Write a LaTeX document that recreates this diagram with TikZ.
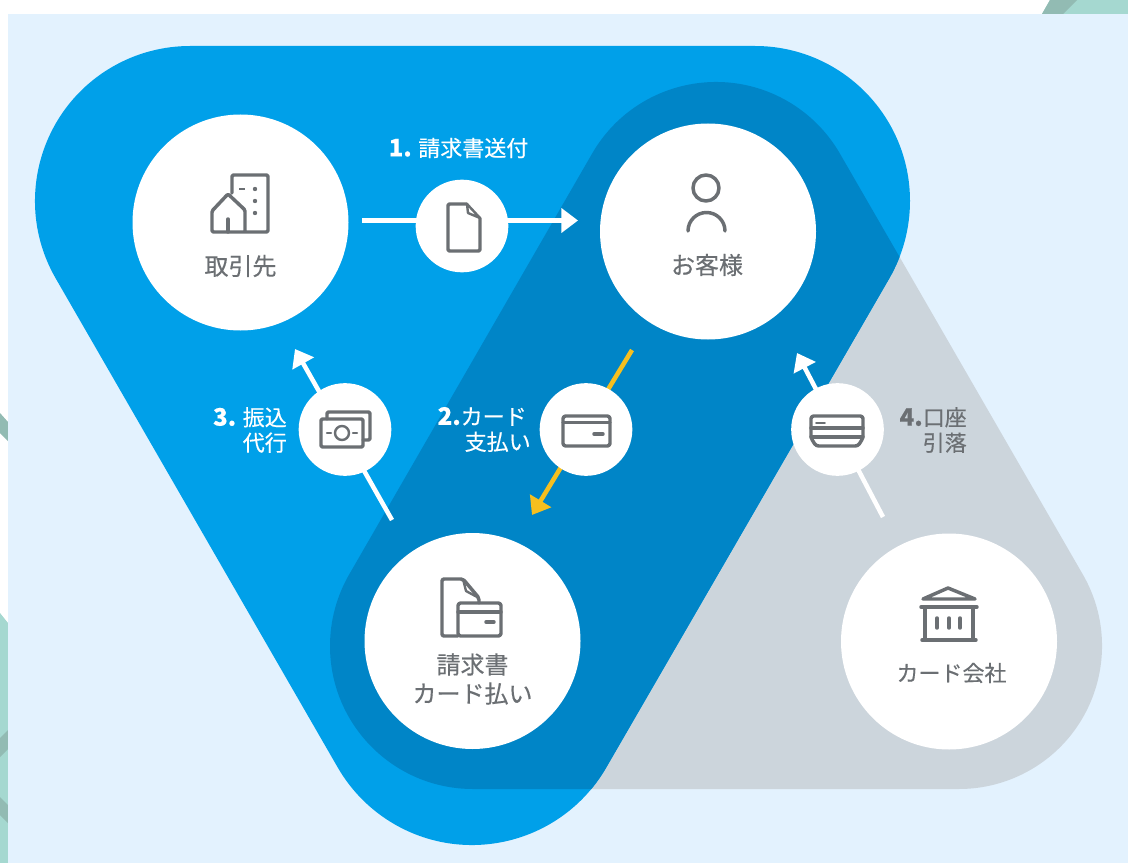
\documentclass[tikz,border=0pt]{standalone}
\usepackage{fontspec}
\setmainfont{Noto Sans CJK JP}[FakeBold=0.35]
\newfontfamily\boldnum{Noto Sans CJK JP Bold}
\usetikzlibrary{arrows.meta}
\definecolor{bgblue}{HTML}{E3F2FE}
\definecolor{mainblue}{HTML}{00A0E9}
\definecolor{darkblue}{HTML}{0085C7}
\definecolor{greyshape}{HTML}{CCD5DC}
\definecolor{tealA}{HTML}{A5D8D0}
\definecolor{tealB}{HTML}{92BBB3}
\definecolor{iconcol}{HTML}{6B6F73}
\definecolor{goldarrow}{HTML}{F6BF1F}
\newcommand{\stepnum}[1]{{\fontsize{18pt}{19pt}\selectfont\bfseries #1}}
\tikzset{
  bigcircle/.style={circle,fill=white,draw=none,inner sep=0pt,minimum size=162pt},
  smallcircle/.style={circle,fill=white,draw=none,inner sep=0pt,minimum size=69.5pt},
  flowarrow/.style={line width=3.4pt,-{Triangle[length=12.5pt,width=18pt]}},
  iconline/.style={draw=iconcol,line width=2.6pt,line join=round,line cap=round},
  iconthin/.style={draw=iconcol,line width=1.8pt,line join=round,line cap=round},
  nodetext/.style={text=iconcol,font=\fontsize{18pt}{21.75pt}\selectfont,align=center,inner sep=0pt},
  steptext/.style={text=white,font=\fontsize{16.5pt}{19pt}\selectfont,align=right,inner sep=0pt},
}
\def\blueshape{([shift={(-90:155)}]B1) -- ([shift={(-90:155)}]B2) arc (-90:30:155)
  -- ([shift={(30:155)}]B3) arc (30:150:155)
  -- ([shift={(150:155)}]B1) arc (150:270:155) -- cycle}
\def\greyoutline{([shift={(-150:143)}]G1) arc (-150:-30:143)
  -- ([shift={(-30:143)}]G2) arc (-30:90:143)
  -- ([shift={(90:143)}]G3) arc (90:210:143) -- cycle}
\begin{document}
\begin{tikzpicture}[x=0.75pt,y=-0.75pt]
\useasboundingbox (0,0) rectangle (1128,863);
\fill[white] (0,0) rectangle (1128,863);
% page decoration
\fill[tealA] (1042,14) -- (1050,0) -- (1128,0) -- (1128,14) -- cycle;
\fill[tealB] (1042,14) -- (1050,0) -- (1077,0) -- (1063,14) -- cycle;
\fill[tealB] (0,413) -- (8,422) -- (8,441) -- (0,433) -- cycle;
\fill[tealA] (0,613) -- (8,623) -- (8,863) -- (0,863) -- cycle;
\fill[tealB] (0,738) -- (8,730) -- (8,749) -- (0,757) -- cycle;
\fill[tealB] (0,797) -- (8,805) -- (8,823) -- (0,815) -- cycle;
\fill[bgblue] (8,14) rectangle (1128,863);
% triangles
\coordinate (B1) at (190,201);
\coordinate (B2) at (755,201);
\coordinate (B3) at (472,690);
\coordinate (G1) at (716,225);
\coordinate (G2) at (959,646);
\coordinate (G3) at (473,646);
\fill[greyshape] \greyoutline;
\fill[mainblue] \blueshape;
\begin{scope}
  \clip \blueshape;
  \fill[darkblue] \greyoutline;
\end{scope}
% connectors
\coordinate (a1s) at (362,220.5);
\coordinate (a1e) at (578,220.5);
\coordinate (a2s) at (632,350);
\coordinate (a2e) at (532,515);
\coordinate (a3s) at (392,520);
\coordinate (a3e) at (295,349);
\coordinate (a4s) at (883,517);
\coordinate (a4e) at (797,353);
\draw[flowarrow,white] (a1s) -- (a1e);
\draw[flowarrow,goldarrow] (a2s) -- (a2e);
\draw[flowarrow,white] (a3s) -- (a3e);
\draw[flowarrow,white] (a4s) -- (a4e);
% big circles
\node[bigcircle] (torihiki) at (240.5,222.5) {};
\node[bigcircle] (okyaku) at (708,231.5) {};
\node[bigcircle] (seikyu) at (472.5,641) {};
\node[bigcircle] (kaisha) at (949,641.5) {};
% small circles
\node[smallcircle] (doc) at (462,226) {};
\node[smallcircle] (card) at (586,429.5) {};
\node[smallcircle] (money) at (345,429.5) {};
\node[smallcircle] (bankcard) at (837.5,429.5) {};
% labels
\node[nodetext] (t1) at (240.5,266) {取引先};
\node[nodetext] (t2) at (707,265) {お客様};
\node[nodetext] (t3) at (472.5,679) {請求書\\カード払い};
\node[nodetext,font=\fontsize{16.5pt}{20pt}\selectfont] (t4) at (951.5,673) {カード会社};
\node[steptext] (s1) at (458.5,148) {\stepnum{1.} 請求書送付};
\node[steptext,anchor=east] (s2) at (531,429.5) {\stepnum{2.}カード\kern3pt\\支払い};
\node[steptext,anchor=east] (s3) at (287,430) {\stepnum{3.} 振込\\代行};
\node[steptext,anchor=east,text=iconcol] (s4) at (967,430) {\stepnum{4.}口座\\引落};
% building icon
\draw[iconline,rounded corners=1pt] (232,193) -- (232,175) -- (268,175) -- (268,232) -- (212,232) -- (212,211) -- (228,194) -- (245,210) -- (245,232);
\draw[iconline] (228,232) -- (228,219);
\fill[iconcol] (239,188) rectangle (245,190.5);
\foreach \dy in {189,201,213} \fill[iconcol] (255,\dy) circle (2.2);
% person icon
\draw[iconline] (706,188) circle (13);
\draw[iconline] (688,231) arc (180:360:18.5);
% document icon
\draw[iconline,rounded corners=1pt] (467,204) -- (448,204) -- (448,251) -- (480,251) -- (480,218);
\draw[iconthin] (467,204) -- (480,218) -- (468,213) -- cycle;
% card icon
\draw[iconline,rounded corners=2pt] (563,416) rectangle (610,446);
\draw[iconline] (563,422.5) -- (610,422.5);
\draw[iconline] (594,434) -- (603,434);
% money icon
\draw[iconline,rounded corners=1pt] (327,419) -- (327,412) -- (370,412) -- (370,440) -- (363,440);
\draw[iconline,rounded corners=1pt] (321,419) rectangle (363,447);
\draw[iconthin] (342,433) circle (7);
\draw[iconthin] (327,433) -- (331,433);
\draw[iconthin] (353,433) -- (357,433);
% bank-card icon
\draw[iconline,rounded corners=2pt] (811,416) -- (863,416) -- (863,438) -- (858,446) -- (816,446) -- (811,438) -- cycle;
\draw[iconline] (811,428) -- (863,428);
\draw[iconline] (811,437) -- (863,437);
\draw[iconthin,line width=1.2pt] (816,423) -- (825,423);
% invoice and card icon
\draw[iconline,rounded corners=1.5pt] (458,636) -- (442,636) -- (442,579) -- (463,579) -- (479,598) -- (479,603);
\draw[iconthin] (463,579) -- (466,591) -- (479,598);
\draw[iconline,rounded corners=2pt] (458,603) rectangle (501,636);
\draw[iconline] (458,612) -- (501,612);
\draw[iconline] (486,622) -- (494,622);
% bank icon
\draw[iconline] (923,599) -- (948,588) -- (975,599) -- cycle;
\draw[iconline] (921,607) -- (977,607);
\draw[iconline] (925,607) -- (925,640);
\draw[iconline] (973,607) -- (973,640);
\draw[iconline] (922,640) -- (976,640);
\foreach \tx in {937,949,960} \draw[iconline] (\tx,618) -- (\tx,628);
\end{tikzpicture}
\end{document}
